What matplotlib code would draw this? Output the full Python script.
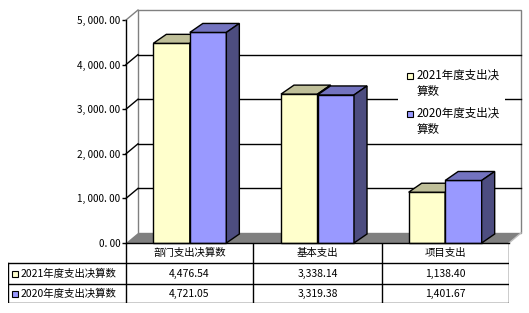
import matplotlib
matplotlib.use('Agg')
import matplotlib.pyplot as plt
from matplotlib.patches import Polygon, Rectangle

plt.rcParams['font.family'] = ['Noto Sans CJK SC', 'DejaVu Sans']

categories = ['部门支出决算数', '基本支出', '项目支出']
series_names = ['2021年度支出决算数', '2020年度支出决算数']
legend_labels = ['2021年度支出决\n算数', '2020年度支出决\n算数']
values_2021 = [4476.54, 3338.14, 1138.40]
values_2020 = [4721.05, 3319.38, 1401.67]
yticks = [0, 1000, 2000, 3000, 4000, 5000]
ytick_labels = ['0. 00', '1, 000. 00', '2, 000. 00', '3, 000. 00', '4, 000. 00', '5, 000. 00']

W, H = 529, 313
fig = plt.figure(figsize=(W / 100, H / 100), dpi=100)
fig.patch.set_facecolor('white')

# front plane of the plot, pixel box 126..509 x 20..243
ax = fig.add_axes([126 / W, (H - 243) / H, 383 / W, 223 / H])
ax.set_xlim(-0.5, 2.5)
ax.set_ylim(0, 5000)
ax.patch.set_visible(False)
for s in ['top', 'right', 'bottom']:
    ax.spines[s].set_visible(False)
ax.spines['left'].set_linewidth(1)
ax.set_xticks([])
ax.set_yticks(yticks)
ax.set_yticklabels(ytick_labels, fontsize=7.2)
ax.tick_params(axis='y', length=3, width=1, pad=1)

px_x = 383 / 3.0      # pixels per category
px_y = 223 / 5000.0   # pixels per unit
wdx, wdy = 12 / px_x, 10 / px_y   # wall depth
bdx, bdy = 13 / px_x, 9 / px_y    # bar depth

x0, x1 = -0.5, 2.5
gray = '#808080'

# back wall
ax.add_patch(Rectangle((x0 + wdx, wdy), x1 - x0, 5000, facecolor='white',
                       edgecolor=gray, lw=1, clip_on=False, zorder=1))
for v in yticks[1:-1]:
    ax.plot([x0 + wdx, x1 + wdx], [v + wdy, v + wdy], color='black', lw=1,
            clip_on=False, zorder=2)
    ax.plot([x0, x0 + wdx], [v, v + wdy], color='black', lw=1,
            clip_on=False, zorder=2)
ax.plot([x0, x0 + wdx], [5000, 5000 + wdy], color=gray, lw=1, clip_on=False, zorder=2)

# floor
ax.add_patch(Polygon([(x0, 0), (x1, 0), (x1 + wdx, wdy), (x0 + wdx, wdy)],
                     closed=True, facecolor=gray, edgecolor='none',
                     clip_on=False, zorder=2))
ax.plot([x1, x1 + wdx], [0, wdy], color='#c0c0c0', lw=1, clip_on=False, zorder=2)
ax.plot([x0, x1], [0, 0], color='black', lw=1, clip_on=False, zorder=6)

# legend box on the back wall
lg = fig.add_axes([398 / W, (H - 140) / H, 107 / W, 80 / H])
lg.set_xlim(0, 107)
lg.set_ylim(80, 0)
lg.axis('off')
lg.add_patch(Rectangle((0, 0), 107, 80, facecolor='white', edgecolor='none'))

# bars
bw = 0.286
series = [
    (values_2021, -bw, '#FFFFCC', '#BFBF99', '#80805F'),
    (values_2020, 0.0, '#9999FF', '#7373BF', '#4D4D80'),
]
for i in range(len(categories)):
    for vals, off, front, top, side in series:
        left = i + off
        v = vals[i]
        ax.bar(left, v, bw, align='edge', color=front, edgecolor='black',
               lw=1, clip_on=False, zorder=3)
        ax.add_patch(Polygon([(left, v), (left + bw, v), (left + bw + bdx, v + bdy),
                              (left + bdx, v + bdy)], closed=True, facecolor=top,
                             edgecolor='black', lw=1, clip_on=False, zorder=3))
        ax.add_patch(Polygon([(left + bw, 0), (left + bw + bdx, bdy),
                              (left + bw + bdx, v + bdy), (left + bw, v)], closed=True,
                             facecolor=side, edgecolor='black', lw=1,
                             clip_on=False, zorder=3))

colors = ['#FFFFCC', '#9999FF']
for k, lab in enumerate(legend_labels):
    y = 15.5 + k * 38
    lg.add_patch(Rectangle((9, y - 3), 6, 6, facecolor=colors[k], edgecolor='black', lw=0.8))
    lg.text(19, y - 7, lab, fontsize=8.3, va='top', ha='left', linespacing=1.3)

# data table under the chart
tb = fig.add_axes([8 / W, (H - 303) / H, 501 / W, 60 / H])
tb.set_xlim(0, 501)
tb.set_ylim(60, 0)
tb.axis('off')
cols = [0, 118, 245, 374, 501]
rows = [0, 20, 41, 60]
tb.plot([cols[0], cols[-1]], [rows[1], rows[1]], color='black', lw=1)
tb.plot([cols[0], cols[-1]], [rows[2], rows[2]], color='black', lw=1)
tb.plot([cols[0], cols[-1]], [rows[3], rows[3]], color='black', lw=1)
tb.plot([cols[0], cols[0]], [rows[1], rows[3]], color='black', lw=1)
for c in cols[1:]:
    tb.plot([c, c], [rows[0], rows[3]], color='black', lw=1)
for j, name in enumerate(categories):
    tb.text((cols[j + 1] + cols[j + 2]) / 2, (rows[0] + rows[1]) / 2, name,
            ha='center', va='center', fontsize=7.5)
for k, (name, vals) in enumerate(zip(series_names, [values_2021, values_2020])):
    yc = (rows[k + 1] + rows[k + 2]) / 2
    tb.add_patch(Rectangle((4, yc - 3), 6, 6, facecolor=colors[k], edgecolor='black', lw=0.8))
    tb.text(13, yc, name, ha='left', va='center', fontsize=7.5)
    for j, v in enumerate(vals):
        tb.text((cols[j + 1] + cols[j + 2]) / 2, yc, f'{v:,.2f}',
                ha='center', va='center', fontsize=7.5)

fig.savefig('out.png', dpi=100)
